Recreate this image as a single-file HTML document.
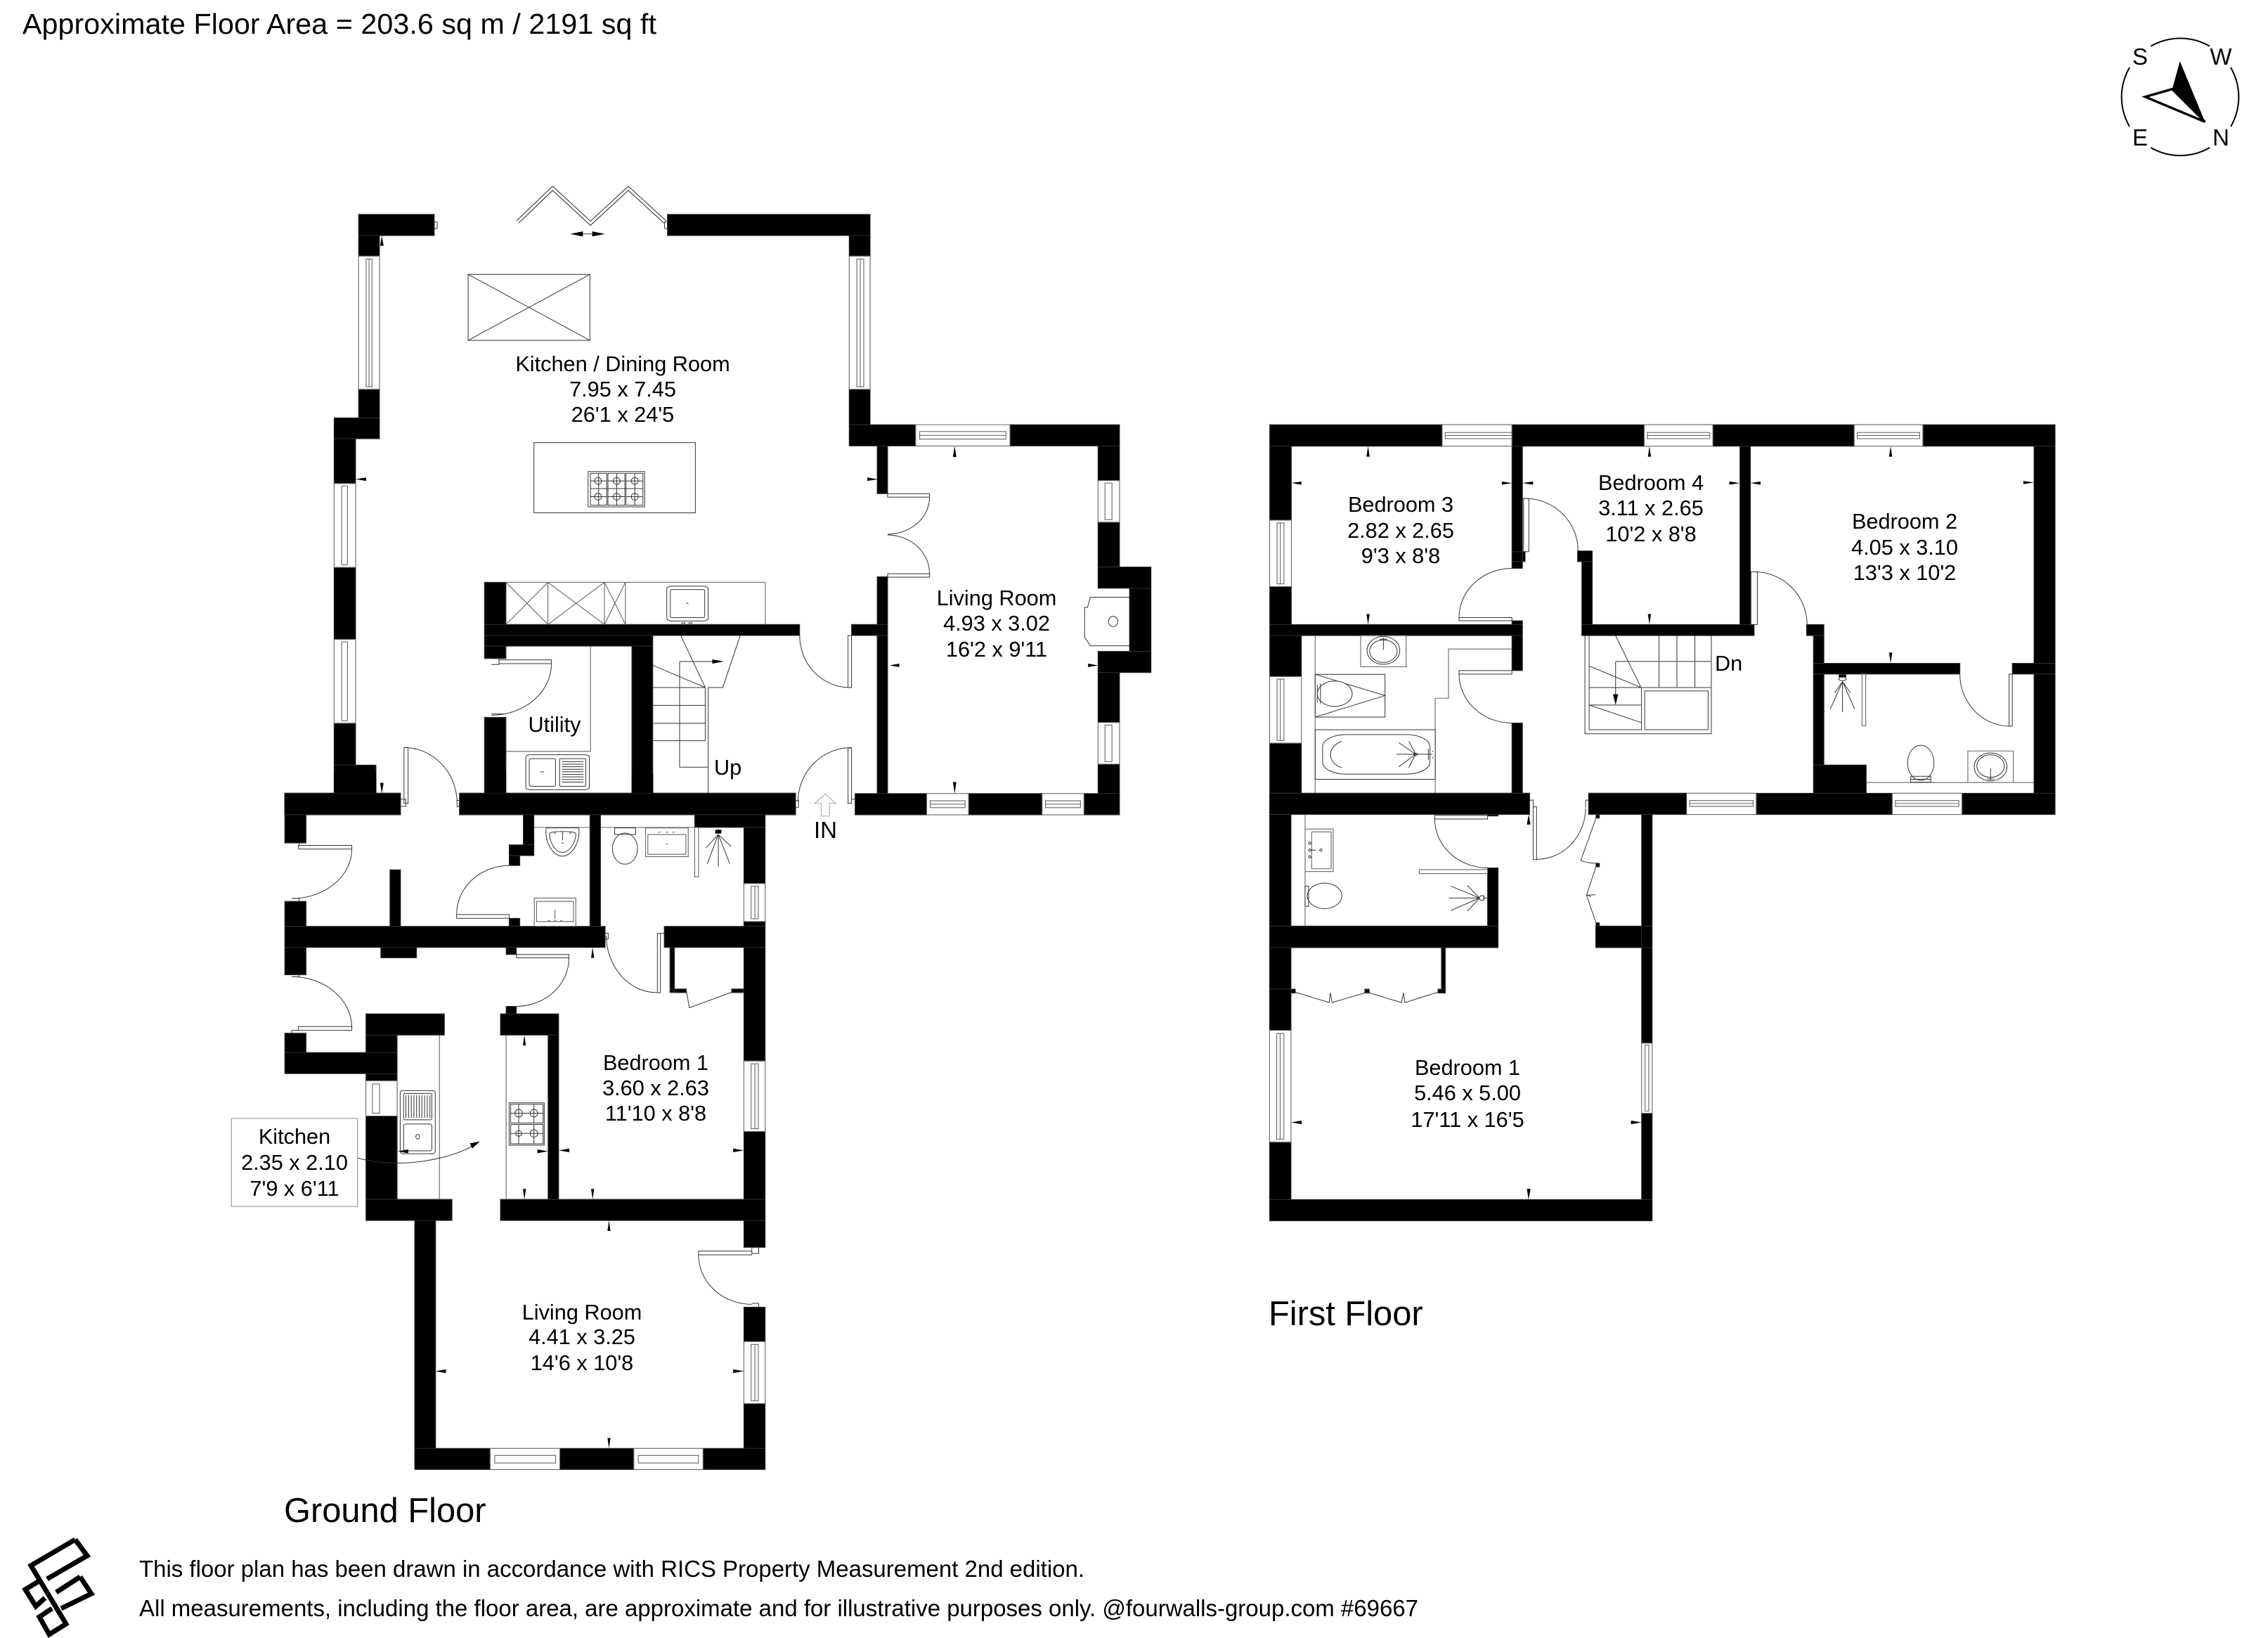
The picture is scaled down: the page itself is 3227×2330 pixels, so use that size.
<!DOCTYPE html>
<html><head><meta charset="utf-8"><style>
html,body{margin:0;padding:0;background:#fff}
svg{display:block}
svg *{vector-effect:non-scaling-stroke}
.w{fill:#000;stroke:#333;stroke-width:1}
.l{fill:none;stroke:#333;stroke-width:1}
.g{fill:none;stroke:#666;stroke-width:1.1}
.f{fill:#000;stroke:none}
text{font-family:"Liberation Sans",sans-serif;fill:#000;font-size:30.7px}
.m{text-anchor:middle}
</style></head><body>
<svg xmlns="http://www.w3.org/2000/svg" width="3227" height="2330" viewBox="0 0 3227 2330">
<rect width="3227" height="2330" fill="#fff"/>

<!-- Ground floor upper -->
<g transform="translate(380,240) scale(.82908,.60587)">
<path class="w" d="M157 107H287V157H157ZM157 157H193V205H157ZM157 518H193V585H157ZM115 585H193V634H115ZM115 634H152V739H115ZM115 936H152V1105H115ZM115 1302H152V1400H115ZM115 1400H187V1467H115ZM30 1467H229V1517H30ZM330 1467H907V1517H330ZM1009 1467H1132V1517H1009ZM1204 1467H1330V1517H1204ZM1402 1467H1463V1517H1402ZM687 107H1035V157H687ZM999 157H1035V205H999ZM999 518H1035V601H999ZM999 601H1113V651H999ZM1275 601H1463V651H1275ZM1426 651H1463V732H1426ZM1426 830H1463V935H1426ZM1426 935H1517V985H1426ZM1480 985H1517V1133H1480ZM1426 1133H1517V1183H1426ZM1426 1183H1463V1300H1426ZM1426 1398H1463V1467H1426ZM1047 651H1065V763H1047ZM1047 958H1065V1070H1047ZM1003 1070H1065V1096H1003ZM1047 1096H1065V1467H1047ZM373 971H410V1070H373ZM373 1070H914V1096H373ZM373 1096H662V1121H373ZM373 1121H410V1150H373ZM626 1121H662V1467H626ZM373 1288H410V1467H373Z"/>
<!-- fireplace -->
<path class="l" d="M1480 1006H1413L1408 1030H1403V1100L1413 1120H1480"/>
<ellipse class="l" cx="1452" cy="1063" rx="8" ry="12"/>
<!-- windows -->
<path class="g" d="M157 205H193V518H157ZM170 212H180V512H170ZM175 212V512M999 205H1035V518H999ZM1012 212H1024V512H1012ZM1018 212V512M115 739H152V936H115ZM128 745H138V930H128ZM115 1105H152V1302H115ZM128 1111H138V1296H128ZM1113 601H1275V651H1113ZM1120 617H1268V635H1120ZM1120 626H1268M1426 732H1463V830H1426ZM1438 738H1450V824H1438ZM1426 1300H1463V1398H1426ZM1438 1306H1450V1392H1438ZM1132 1467H1204V1517H1132ZM1138 1484H1198V1500H1138ZM1138 1492H1198M1330 1467H1402V1517H1330ZM1336 1484H1396V1500H1336ZM1336 1492H1396"/>
<!-- bifold -->
<path d="M430 125L490 46L555 128L620 46L683 125" fill="none" stroke="#222" stroke-width="5.4" stroke-linejoin="miter"/>
<path d="M430 125L490 46L555 128L620 46L683 125" fill="none" stroke="#fff" stroke-width="3.4" stroke-linejoin="miter"/>
<path class="f" d="M520 153L542 147V159ZM580 153L558 147V159Z"/><path class="l" d="M542 153H558M287 125H292V140H287ZM682 125H687V140H682Z"/>
<!-- skylight, island -->
<path class="l" d="M345 248H554V403H345ZM345 248L554 403M554 248L345 403M458 643H735V808H458Z"/>
<path class="l" d="M551 711H648V794H551ZM555 715H583V790H555ZM585 715H614V790H585ZM616 715H645V790H616ZM555 733H583M569 715V750M585 733H614M600 715V750M616 733H645M631 715V750M555 770H583M569 752V790M585 770H614M600 752V790M616 770H645M631 752V790M555 751H645"/>
<g class="l"><ellipse cx="568" cy="733" rx="6" ry="8"/><ellipse cx="600" cy="733" rx="6" ry="8"/><ellipse cx="631" cy="733" rx="6" ry="8"/><ellipse cx="568" cy="770" rx="6" ry="8"/><ellipse cx="600" cy="770" rx="6" ry="8"/><ellipse cx="631" cy="770" rx="6" ry="8"/></g>
<!-- french doors -->
<path class="l" d="M1065 763H1137V771H1065ZM1065 951H1137V959H1065ZM1137 771A72 87 0 0 1 1065 858M1065 860A72 91 0 0 1 1137 951"/>
<!-- kitchen counter -->
<path class="g" d="M410 971H855V1070M482 971V1070M579 971V1070M615 971V1070M410 1070L482 971M410 971L482 1070M482 1070L579 971M482 971L579 1070M579 1070L615 971M579 971L615 1070"/>
<rect class="l" x="686" y="980" width="71" height="82" rx="8" ry="6"/><rect class="l" x="692" y="988" width="59" height="66" rx="4" ry="3"/>
<path class="l" d="M719 1020h4M712 1066h5v5h-5ZM724 1066h5v5h-5Z"/>
<!-- hall door -->
<path class="l" d="M997 1096H1003V1218H997ZM914 1096A86 122 0 0 0 998 1218"/>
<!-- stairs -->
<path class="l" d="M710 1096L752 1218M812 1096L782 1218H757V1467M662 1166L752 1218M708 1157H770M708 1157V1405H757M662 1218H752M662 1260H752M662 1302H752M662 1343H752M752 1218V1343"/>
<path class="f" d="M784 1157L764 1152V1162Z"/>
<!-- utility -->
<path class="g" d="M555 1121V1368H410"/>
<path class="l" d="M385 1150H398V1164H385M398 1153H488V1162H398ZM488 1162A103 121 0 0 1 385 1283M385 1280H410"/>
<rect class="l" x="444" y="1376" width="109" height="82" rx="7" ry="5"/><rect class="l" x="450" y="1385" width="45" height="65" rx="4" ry="3"/><rect class="l" x="502" y="1385" width="45" height="65" rx="3" ry="2"/>
<path class="l" d="M506 1392H543M506 1398H543M506 1404H543M506 1410H543M506 1416H543M506 1422H543M506 1428H543M506 1434H543M506 1440H543M469 1416h6"/>
<!-- doors bottom -->
<path class="l" d="M235 1359H242V1490H235ZM235 1359A91 130 0 0 1 326 1489M229 1480H238V1497H229ZM326 1483H330V1498H326ZM997 1360H1003V1490H997ZM1003 1359A92 128 0 0 0 911 1487M907 1483H912V1500H907ZM1003 1480H1009V1490"/>
<path class="g" d="M958 1468L976 1490H965V1520H951V1490H940Z" style="stroke:#aaa"/>
<!-- arrows -->
<path class="f" d="M197 157L194 181H200ZM152 729L170 725H170V733ZM1048 729L1030 725V733ZM1180 651L1177 677H1183ZM1068 1166L1085 1162V1170ZM1426 1166L1409 1162V1170ZM1180 1467L1177 1440H1183ZM197 1467L194 1442H200Z"/>
</g>

<!-- Ground floor lower -->
<g transform="translate(300,1100) scale(.54209,.66964)">
<path class="w" d="M194 42H498V88H194ZM194 88H250V148H194ZM194 272H250V325H194ZM194 325H1035V370H194ZM470 205H498V325H470ZM446 370H540V392H446ZM194 370H250V428H194ZM194 552H250V593H194ZM194 593H489V638H194ZM407 511H613V556H407ZM407 556H489V593H407ZM407 638H489V653H407ZM407 728H489V905H407ZM407 905H633V950H407ZM535 950H590V1434H535ZM535 1434H733V1479H535ZM916 1434H1110V1479H916ZM1292 1434H1455V1479H1292ZM1399 1339H1455V1434H1399ZM1399 1134H1455V1207H1399ZM1399 950H1455V1007H1399ZM760 905H1455V950H760ZM1270 88H1455V115H1270ZM1399 115H1455V234H1399ZM1399 315H1455V325H1399ZM1190 325H1455V370H1190ZM1399 370H1455V611H1399ZM1399 761H1455V905H1399ZM760 511H913V556H760ZM885 556H913V905H885ZM775 495H802V511H775ZM775 370H802V385H775ZM820 88H848V152H820ZM783 152H848V175H783ZM783 175H811V196H783ZM783 308H811V325H783ZM995 88H1023V325H995ZM1205 370H1217V465H1205ZM1205 458H1248V466H1205ZM1367 458H1399V466H1367ZM653 42H1535V88H653Z"/>
<path class="f" d="M720 0H775V42H720ZM1105 0H1161V42H1105ZM323 0H434V42H323Z"/>
<path class="g" d="M1399 234H1455V315H1399ZM1418 240H1437V309H1418ZM1428 240V309M1399 611H1455V761H1399ZM1418 617H1437V755H1418ZM1428 617V755M1399 1207H1455V1339H1399ZM1418 1213H1437V1333H1418ZM1428 1213V1333M407 653H489V728H407ZM424 660H443V722H424ZM733 1434H916V1479H733ZM745 1449H905V1465H745ZM1110 1434H1292V1479H1110ZM1122 1449H1280V1465H1122Z"/>
<!-- doors -->
<path class="l" d="M230 153H370V161H230ZM212 148H232V155M370 161A158 105 0 0 1 212 266M212 266H232V272M230 538H370V546H230ZM212 432A158 108 0 0 1 370 538M212 432H232V428M212 552V546H232M645 300H783V308H645ZM783 196A138 104 0 0 0 645 300M802 385H940V392H802ZM940 392A138 103 0 0 1 802 495M1172 340H1180V466H1172ZM1038 345A134 121 0 0 0 1172 466M1180 340H1190M1035 340H1043V352H1035M1248 462L1256 498L1367 465M1280 1015H1420V1023H1280ZM1420 1007V1020H1438V1007M1280 1023A140 105 0 0 0 1420 1128M1420 1126H1438V1134"/>
<!-- kitchen -->
<path class="g" d="M600 556V905M775 556V905"/>
<rect class="l" x="497" y="674" width="92" height="134" rx="6" ry="5"/><rect class="l" x="506" y="680" width="74" height="56" rx="4" ry="3"/><rect class="l" x="506" y="745" width="74" height="57" rx="5" ry="4"/>
<path class="l" d="M512 684V732M519 684V732M526 684V732M533 684V732M540 684V732M547 684V732M554 684V732M561 684V732M568 684V732M575 684V732"/><circle class="l" cx="543" cy="772" r="5"/>
<path class="l" d="M783 700H875V790H783ZM787 703H872V743H787ZM787 746H872V787H787ZM787 722H872M787 765H872M808 703V743M848 703V743M808 746V787M848 746V787"/>
<g class="l"><ellipse cx="808" cy="722" rx="10" ry="8"/><ellipse cx="848" cy="722" rx="10" ry="8"/><ellipse cx="808" cy="765" rx="8" ry="6"/><ellipse cx="848" cy="765" rx="10" ry="8"/></g>
<rect x="54" y="733" width="331" height="187" fill="#fff" stroke="#888" stroke-width="1"/>
<path class="l" d="M385 817C480 840 620 825 695 788"/><path class="f" d="M706 782L680 786L686 797Z"/>
<!-- bath -->
<path class="g" d="M848 115H995M1023 115H1270"/>
<path class="l" d="M880 116H966C970 150 945 176 923 176C900 176 876 150 880 116ZM889 128C889 148 905 168 923 168C940 168 958 148 958 128C958 122 889 122 889 128ZM901 127h5M921 127h5M941 127h5M923 128V142M920 148h6"/>
<path class="g" d="M849 265H958V325H849ZM855 272H952V315H855ZM903 290v20M885 313h5M901 313h5M917 313h5"/>
<path class="l" d="M1060 116H1115V130H1060Z"/><ellipse class="l" cx="1087" cy="160" rx="33" ry="33"/>
<path class="g" d="M1141 116H1253V177H1141ZM1147 130H1247V172H1147ZM1175 125h5M1195 125h5M1212 125h5M1195 150h5"/>
<path class="g" d="M1270 115H1280V220H1270Z"/>
<path class="l" d="M1332 118V128M1332 130L1300 158M1332 130L1303 192M1332 130V198M1332 130L1362 192M1332 130L1365 155"/>
<path class="f" d="M1324 120H1340V128H1324Z"/>
<path class="f" d="M1002 370L998 392H1006ZM823 556L819 578H827ZM823 905L819 883H827ZM490 803L518 799V807ZM885 803L857 799V807ZM913 801L941 797V805ZM1399 801L1371 797V805ZM1002 905L998 883H1006ZM1045 950L1041 972H1049ZM590 1270L617 1266V1274ZM1399 1270L1371 1266V1274ZM1045 1434L1041 1412H1049Z"/>
</g>

<!-- First floor upper -->
<g transform="translate(1790,580) scale(.75255,.38265)">
<path class="w" d="M22 63H348V143H22ZM480 63H730V143H480ZM860 63H1127V143H860ZM1257 63H1507V143H1257ZM22 143H63V418H22ZM22 665H63V806H22ZM22 806H500V847H22ZM22 847H82V999H22ZM22 1247H82V1433H22ZM22 1433H513V1512H22ZM626 1433H810V1512H626ZM942 1433H1199V1512H942ZM1331 1433H1507V1512H1331ZM1467 143H1507V950H1467ZM1426 950H1507V990H1426ZM1467 990H1507V1433H1467ZM480 143H500V597H480ZM480 535H505V572H480ZM480 792H500V806H480ZM480 847H500V977H480ZM480 1172H500V1433H480ZM604 532H632V572H604ZM612 572H632V806H612ZM612 806H938V847H612ZM911 143H931V806H911ZM1037 806H1070V847H1037ZM1050 847H1070V950H1050ZM1050 950H1327V990H1050ZM1050 990H1070V1328H1050ZM1050 1328H1150V1433H1050Z"/>
<path class="g" d="M348 63H480V143H348ZM354 92H480V115H354ZM354 103H480M730 63H860V143H730ZM736 92H854V115H736ZM736 103H854M1127 63H1257V143H1127ZM1133 92H1251V115H1133ZM1133 103H1251M810 1433H942V1512H810ZM816 1460H936V1482H816ZM816 1471H936M1199 1433H1331V1512H1199ZM1205 1460H1325V1482H1205ZM1205 1471H1325M22 418H63V665H22ZM36 428H49V655H36ZM42 428V655M22 999H82V1247H22ZM36 1009H49V1237H36ZM42 1009V1237"/>
<!-- doors -->
<path class="l" d="M502 337H512V535H502ZM505 337A100 195 0 0 1 605 532M380 780H480V792H380ZM480 597A100 183 0 0 0 380 780M380 977H480V990H380ZM380 990A100 182 0 0 0 480 1172M932 610H944V806H932ZM938 610A100 196 0 0 1 1038 806M1420 990H1426V1184H1420ZM1327 990A95 194 0 0 0 1422 1184"/>
<!-- bathroom -->
<path class="g" d="M108 847V1433M335 1197V1433M335 1080V1197M335 1080H360V897H480"/>
<path class="g" d="M194 847H280V963H194Z"/><g class="l"><ellipse cx="237" cy="902" rx="31" ry="52"/><ellipse cx="237" cy="905" rx="26" ry="42"/><path d="M237 855V900M230 860H244"/></g>
<path class="l" d="M108 991H240V1150H108ZM108 991L240 1070L108 1150"/>
<ellipse class="l" cx="145" cy="1063" rx="33" ry="47" style="fill:#fff"/><path class="l" d="M118 1025V1100M112 1030V1095"/>
<path class="l" d="M108 1197H335V1381H108Z"/>
<rect class="l" x="122" y="1215" width="203" height="147" rx="45" ry="45"/>
<path class="l" d="M158 1240C130 1260 130 1320 158 1338M262 1288H330M298 1288L266 1245M298 1288L266 1335M298 1288L285 1240M298 1288L285 1338"/><circle class="l" cx="298" cy="1288" r="4"/><path class="l" d="M322 1268V1310M330 1275v5M330 1298v5"/>
<!-- stairs -->
<path class="l" d="M618 847V1212H857V847M676 847L724 1040M758 847V1040M792 847V1040M826 847V1040M676 943H857M676 943V1075M626 847V1197H725V1040M626 960L724 1040M626 1040H857M626 1105H724M626 1105L724 1170M731 1053H851V1197H731Z"/>
<path class="f" d="M676 1105L671 1065H681Z"/>
<!-- ensuite -->
<path class="l" d="M1105 990V1005M1105 1018L1082 1120M1105 1018L1090 1060M1105 1018V1132M1105 1018L1128 1120M1105 1018L1120 1060"/><path class="f" d="M1098 992H1112V1002H1098Z"/><circle class="l" cx="1105" cy="1008" r="7"/>
<path class="g" d="M1142 990H1149V1182H1142ZM1150 1393H1467M1342 1276H1428V1393H1342Z"/>
<ellipse class="l" cx="1253" cy="1320" rx="25" ry="65"/><path class="l" d="M1234 1370H1272V1392H1234ZM1234 1381H1272"/>
<g class="l"><ellipse cx="1385" cy="1335" rx="31" ry="52"/><ellipse cx="1385" cy="1332" rx="26" ry="42"/><path d="M1385 1340V1385M1378 1380H1392"/></g>
<path class="f" d="M208 143L205 182H211ZM740 143L737 182H743ZM1196 143L1193 182H1199ZM63 280L82 274V286ZM480 280L461 274V286ZM500 280L520 274V286ZM911 280L891 274V286ZM931 280L950 274V286ZM1467 278L1447 272V284ZM208 806L205 767H211ZM740 806L737 767H743ZM1196 950L1193 910H1199Z"/>
</g>

<!-- First floor lower -->
<g transform="translate(1790,1100) scale(.40816,.43367)">
<path class="w" d="M40 65H947V135H40ZM1152 65H1493V135H1152ZM40 135H115V501H40ZM40 501H837V572H40ZM800 310H837V501H800ZM800 135H837V140H800ZM40 572H115V843H40ZM40 1210H115V1398H40ZM40 1398H1374V1468H40ZM1337 135H1374V885H1337ZM1337 1115H1374V1398H1337ZM1177 501H1374V572H1177ZM639 572H653V708H639ZM627 708H653V721H627ZM115 708H130V721H115ZM372 708H388V721H372ZM1178 135H1190V147H1178ZM1178 295H1190V307H1178ZM1178 490H1190V501H1178Z"/>
<path class="l" d="M40 708H115"/>
<path class="g" d="M40 843H115V1210H40ZM65 853H90V1200H65ZM77 853V1200M1337 885H1374V1115H1337ZM1349 892H1362V1108H1349Z"/>
<!-- doors -->
<path class="l" d="M616 138H800V150H616ZM616 150A184 160 0 0 0 800 310M959 110H971V283H959ZM971 282A170 170 0 0 0 1142 115M947 88H959V135M1142 112V88H1152M1178 147L1125 286Q1150 295 1178 295M1178 307L1145 400L1178 490M1145 400L1177 398M1150 400L1160 405"/>
<path class="g" d="M562 316H800V329H562ZM164 135V501M164 183H262V322H164ZM187 192H255V313H187Z"/>
<g class="l"><circle cx="180" cy="229" r="4"/><circle cx="180" cy="252" r="4"/><circle cx="180" cy="274" r="4"/><circle cx="219" cy="252" r="4"/><path d="M184 252H202"/></g>
<ellipse class="l" cx="232" cy="402" rx="60" ry="42"/><path class="l" d="M164 370H176V436H164Z"/>
<path class="l" d="M772 409L672 370M772 409H665M772 409L672 450M772 409L730 368M772 409L730 452M787 400V418M787 409H800"/><circle class="l" cx="780" cy="409" r="8"/>
<path class="l" d="M130 718L248 752L252 720L258 752L380 718L500 752L507 720L512 752L627 718"/>
<path class="f" d="M943 135L937 168H950ZM115 1145L152 1139V1151ZM1337 1145L1300 1139V1151ZM943 1398L937 1363H950Z"/>
</g>

<!-- compass -->
<path d="M3060.3 65.7A83.5 83.5 0 0 1 3144 65.7M3174 96A83.5 83.5 0 0 1 3174 180M3144 210A83.5 83.5 0 0 1 3060.3 210M3030 180A83.5 83.5 0 0 1 3030 96" fill="none" stroke="#000" stroke-width="2"/>
<path d="M3052.3 137.7L3090.7 126.7L3137.3 173.3Z" fill="#fff" stroke="#000" stroke-width="3.4"/>
<path d="M3101.7 87.3L3137.3 173.3L3090.7 126.7Z" fill="#000"/>
<text x="3045" y="92" class="m" style="font-size:33px">S</text><text x="3160" y="92" class="m" style="font-size:33px">W</text><text x="3045" y="207" class="m" style="font-size:33px">E</text><text x="3160" y="207" class="m" style="font-size:33px">N</text>

<!-- logo -->
<g fill="none" stroke="#000" stroke-width="7" stroke-linejoin="miter" stroke-miterlimit="8">
<path d="M107 2190L44 2227L94 2310L70 2325L56 2300L74 2288"/>
<path d="M107 2190L124 2213L67 2246"/>
<path d="M114 2243L130 2267L87 2288M114 2243L80 2265"/>
<path d="M54 2250L36 2261L51 2285L64 2273"/>
</g>

<!-- labels -->
<text x="32" y="48" style="font-size:41.2px" textLength="902">Approximate Floor Area = 203.6 sq m / 2191 sq ft</text>

<text class="m" x="886" y="528">Kitchen / Dining Room</text><text class="m" x="886" y="564">7.95 x 7.45</text><text class="m" x="886" y="600">26'1 x 24'5</text>
<text class="m" x="1418" y="861">Living Room</text><text class="m" x="1418" y="897">4.93 x 3.02</text><text class="m" x="1418" y="934">16'2 x 9'11</text>
<text class="m" x="789" y="1041">Utility</text>
<text x="1016" y="1102">Up</text>
<text x="1158" y="1192" style="font-size:33px">IN</text>
<text class="m" x="933" y="1522">Bedroom 1</text><text class="m" x="933" y="1558">3.60 x 2.63</text><text class="m" x="933" y="1594">11'10 x 8'8</text>
<text class="m" x="419" y="1627">Kitchen</text><text class="m" x="419" y="1664">2.35 x 2.10</text><text class="m" x="419" y="1701">7'9 x 6'11</text>
<text class="m" x="828" y="1877">Living Room</text><text class="m" x="828" y="1912">4.41 x 3.25</text><text class="m" x="828" y="1949">14'6 x 10'8</text>
<text class="m" x="1993" y="728">Bedroom 3</text><text class="m" x="1993" y="765">2.82 x 2.65</text><text class="m" x="1993" y="801">9'3 x 8'8</text>
<text class="m" x="2349" y="697">Bedroom 4</text><text class="m" x="2349" y="733">3.11 x 2.65</text><text class="m" x="2349" y="770">10'2 x 8'8</text>
<text class="m" x="2710" y="752">Bedroom 2</text><text class="m" x="2710" y="789">4.05 x 3.10</text><text class="m" x="2710" y="825">13'3 x 10'2</text>
<text x="2440" y="954">Dn</text>
<text class="m" x="2088" y="1529">Bedroom 1</text><text class="m" x="2088" y="1565">5.46 x 5.00</text><text class="m" x="2088" y="1603">17'11 x 16'5</text>
<text x="404" y="2165" style="font-size:48.8px">Ground Floor</text>
<text x="1805" y="1885" style="font-size:48.8px">First Floor</text>
<text x="198" y="2243" style="font-size:33px" textLength="1345">This floor plan has been drawn in accordance with RICS Property Measurement 2nd edition.</text>
<text x="198" y="2299" style="font-size:33px" textLength="1820">All measurements, including the floor area, are approximate and for illustrative purposes only. @fourwalls-group.com #69667</text>
</svg>
</body></html>
